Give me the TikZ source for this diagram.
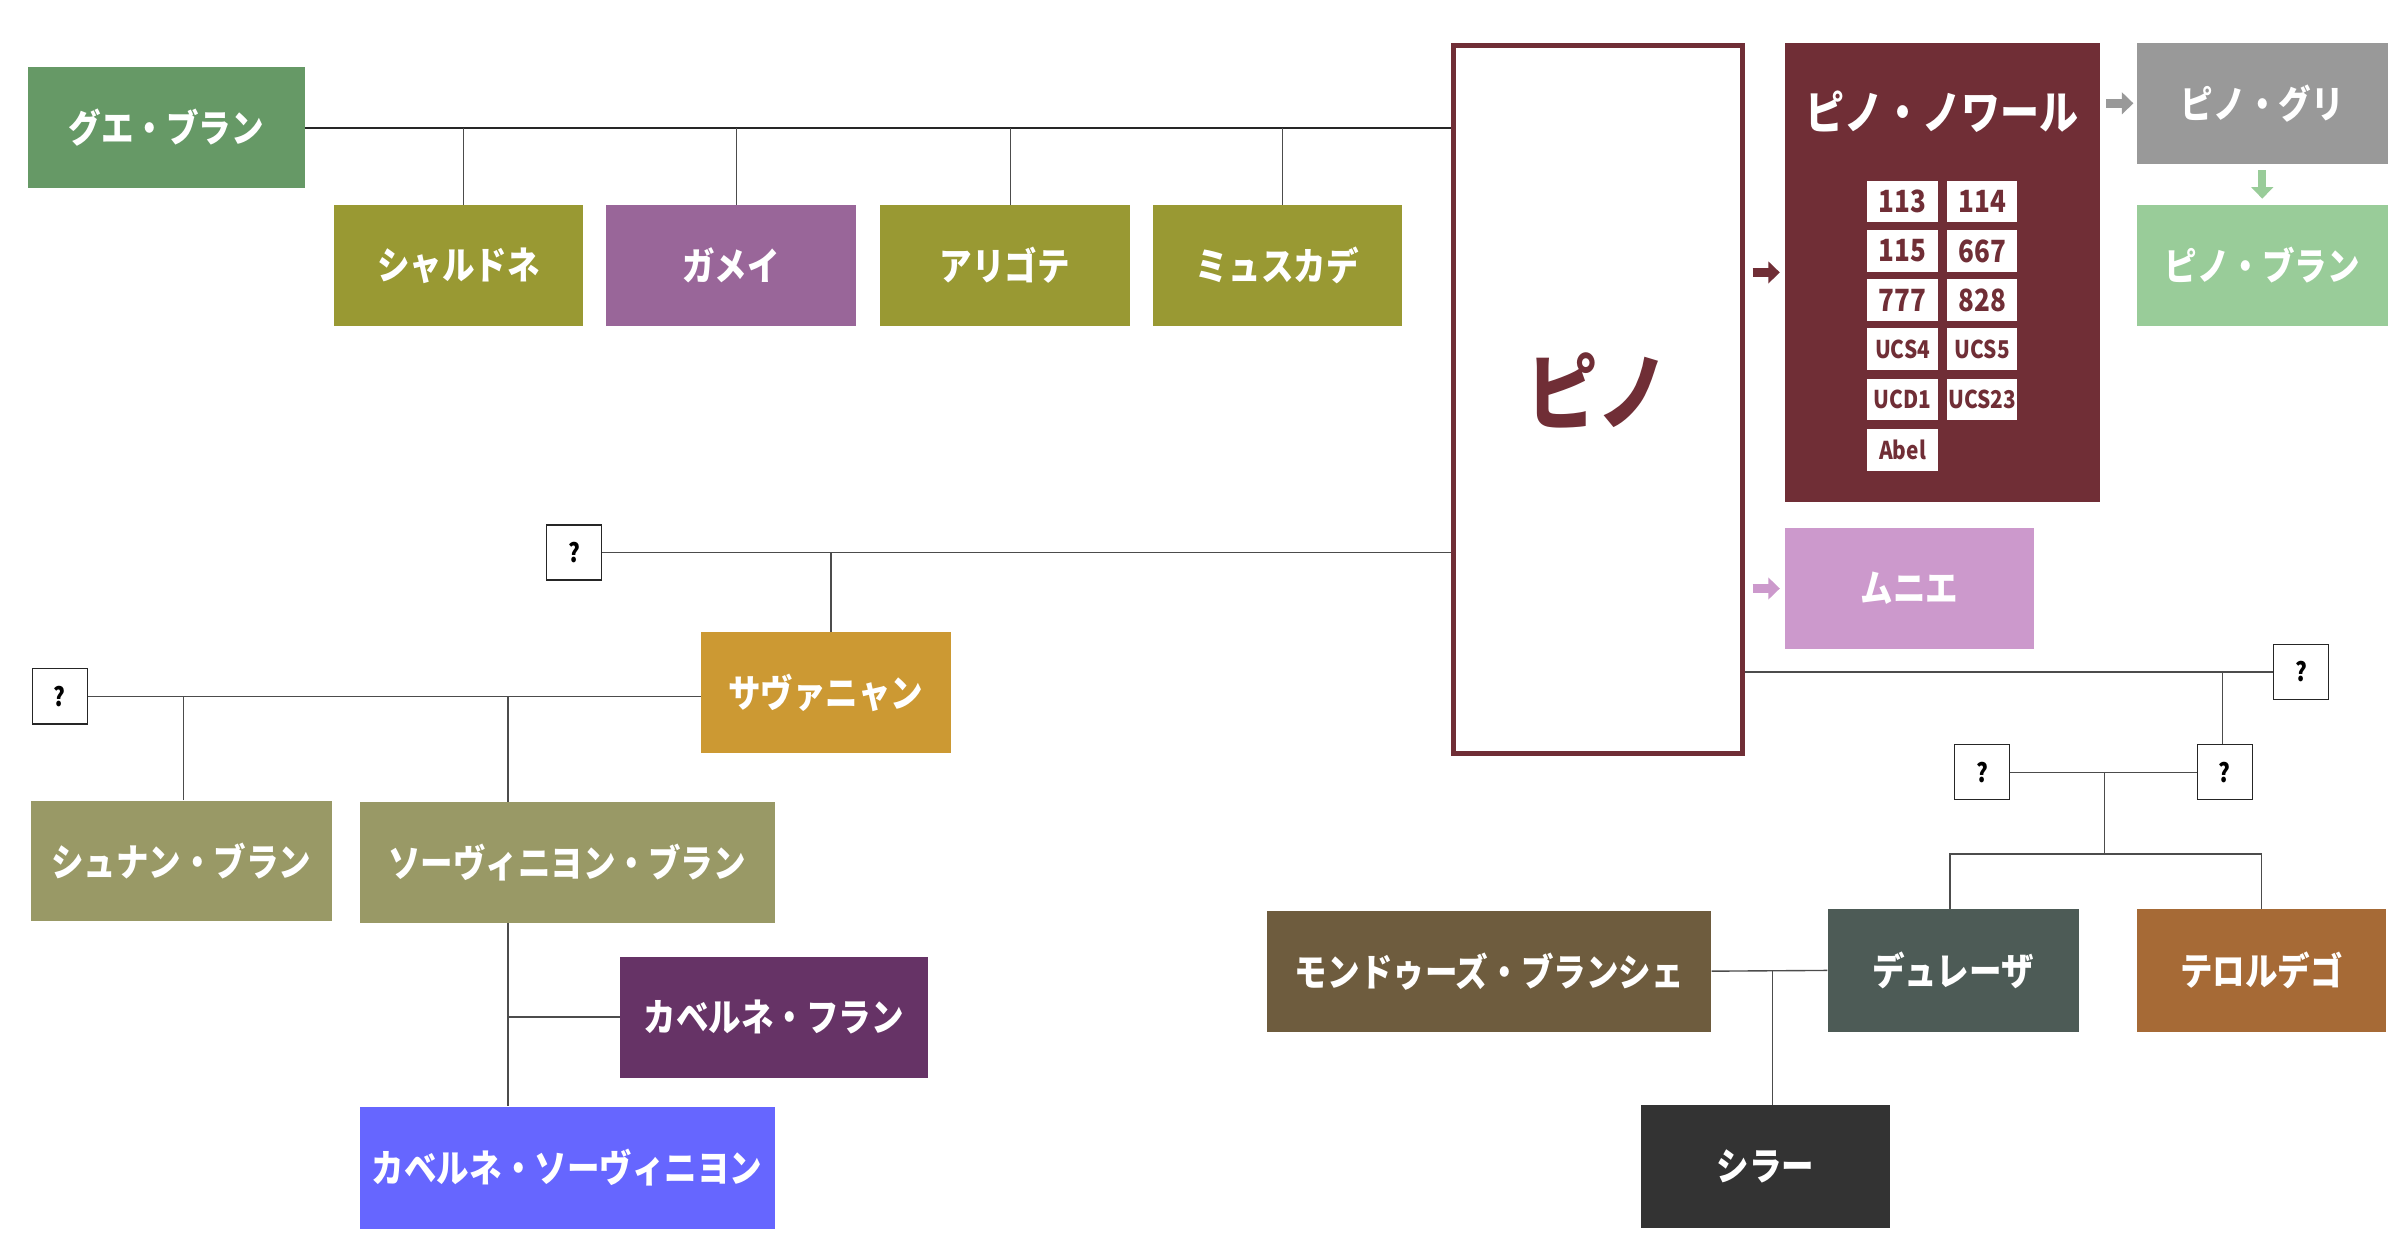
\documentclass[tikz,border=0pt]{standalone}
\usepackage{fontspec}
\setmainfont{Noto Sans CJK JP}[FakeStretch=0.85]
\usetikzlibrary{arrows.meta}
\definecolor{pinoc}{HTML}{702E36}
\definecolor{cgb}{HTML}{669966}
\definecolor{colive}{HTML}{999933}
\definecolor{cga}{HTML}{996699}
\definecolor{cpg}{HTML}{999999}
\definecolor{cpb}{HTML}{99CC99}
\definecolor{cmn}{HTML}{CC99CC}
\definecolor{csv}{HTML}{CC9933}
\definecolor{ckhaki}{HTML}{999966}
\definecolor{ccf}{HTML}{663366}
\definecolor{ccs}{HTML}{6666FF}
\definecolor{cdu}{HTML}{4D5B56}
\definecolor{cte}{HTML}{A66A36}
\definecolor{cmo}{HTML}{6E5C3E}
\definecolor{csy}{HTML}{333333}
\begin{document}
\begin{tikzpicture}[x=1pt,y=-1pt,
  lbl/.style={rectangle, inner sep=0pt, text=white, font=\bfseries\fontsize{25}{25}\selectfont},
  wine/.style={lbl, minimum height=79pt},
  qbox/.style={rectangle, draw=black!85, line width=0.8pt, fill=white, minimum width=36pt, minimum height=36pt, inner sep=0pt, font=\bfseries\fontsize{17}{17}\selectfont},
  link/.style={draw=black!70, line width=0.9pt},
  num/.style={rectangle, fill=white, minimum width=46pt, minimum height=27pt, inner sep=0pt, text=pinoc, font=\bfseries\fontsize{20}{20}\selectfont},
  codec/.style={num, font=\bfseries\fontsize{16}{16}\selectfont},
  blk/.style={line width=5.5pt, -{Triangle[length=7.5pt,width=14pt]}},
]
\fill[white] (0,0) rectangle (1568,823.2);
\useasboundingbox (0,0) rectangle (1568,823.2);

% top family
\node[wine, fill=cgb, minimum width=181pt] (gb) at (108.5,83.5) {グエ・ブラン};
\node[wine, fill=colive, minimum width=163pt] (ch) at (299.5,173.5) {シャルドネ};
\node[wine, fill=cga, minimum width=163pt] (ga) at (477.5,173.5) {ガメイ};
\node[wine, fill=colive, minimum width=163pt] (al) at (656.5,173.5) {アリゴテ};
\node[wine, fill=colive, minimum width=163pt] (mu) at (834.5,173.5) {ミュスカデ};

% pinot
\node[rectangle, draw=pinoc, line width=3.5pt, fill=white, minimum width=188.5pt, minimum height=462.5pt, inner sep=0pt] (pino) at (1044,261) {};
\node[text=pinoc, font=\bfseries\fontsize{55}{55}\selectfont, inner sep=0pt] (pinot) at (1044,255) {ピノ};

\node[rectangle, fill=pinoc, minimum width=206pt, minimum height=300pt, inner sep=0pt] (pn) at (1269,178) {};
\node[lbl, font=\bfseries\fontsize{30}{30}\selectfont] (pnt) at (1269,73) {ピノ・ノワール};
\node[num] (n1) at (1243,131.5) {113};
\node[num] (n2) at (1295,131.5) {114};
\node[num] (n3) at (1243,164) {115};
\node[num] (n4) at (1295,164) {667};
\node[num] (n5) at (1243,196) {777};
\node[num] (n6) at (1295,196) {828};
\node[codec] (n7) at (1243,228) {UCS4};
\node[codec] (n8) at (1295,228) {UCS5};
\node[codec] (n9) at (1243,261) {UCD1};
\node[codec] (n10) at (1295,261) {UCS23};
\node[codec] (n11) at (1243,294) {Abel};

\node[wine, fill=cpg, minimum width=164pt] (pg) at (1478,67.5) {ピノ・グリ};
\node[wine, fill=cpb, minimum width=164pt] (pb) at (1478,173.5) {ピノ・ブラン};
\node[wine, fill=cmn, minimum width=163pt] (mn) at (1247.5,384.5) {ムニエ};

% left lower family
\node[qbox] (q1) at (375,361) {?};
\node[wine, fill=csv, minimum width=163pt] (sv) at (539.5,452.5) {サヴァニャン};
\node[qbox] (q2) at (39,455) {?};
\node[wine, fill=ckhaki, minimum width=197pt] (sc) at (118.5,562.5) {シュナン・ブラン};
\node[wine, fill=ckhaki, minimum width=271pt] (sb) at (370.5,563.5) {ソーヴィニヨン・ブラン};
\node[wine, fill=ccf, minimum width=201pt] (cf) at (505.5,664.5) {カベルネ・フラン};
\node[wine, fill=ccs, minimum width=271pt, minimum height=80pt] (cs) at (370.5,763) {カベルネ・ソーヴィニヨン};

% right lower family
\node[qbox] (q3) at (1503.5,439) {?};
\node[qbox] (q4) at (1453.5,504.5) {?};
\node[qbox] (q5) at (1295,504.5) {?};
\node[wine, fill=cdu, minimum width=164pt, minimum height=80pt] (du) at (1276,634) {デュレーザ};
\node[wine, fill=cte, minimum width=163pt, minimum height=80pt] (te) at (1477.5,634) {テロルデゴ};
\node[wine, fill=cmo, minimum width=290pt] (mo) at (973,634.5) {モンドゥーズ・ブランシェ};
\node[wine, fill=csy, minimum width=163pt, minimum height=80pt] (sy) at (1153.5,762) {シラー};

% connectors: top
\draw[link, draw=black!85, line width=1.1pt] (gb.east) -- (gb.east -| pino.west);
\draw[link] ([xshift=3.5pt]ch.north) -- ([xshift=3.5pt]ch.north |- gb.east);
\draw[link] ([xshift=3.5pt]ga.north) -- ([xshift=3.5pt]ga.north |- gb.east);
\draw[link] ([xshift=3.5pt]al.north) -- ([xshift=3.5pt]al.north |- gb.east);
\draw[link] ([xshift=3.5pt]mu.north) -- ([xshift=3.5pt]mu.north |- gb.east);

% left lower
\draw[link] (q1.east) -- (q1.east -| pino.west);
\draw[link] ([xshift=3.5pt]sv.north) -- ([xshift=3.5pt]sv.north |- q1.east);
\draw[link] (q2.east) -- (q2.east -| sv.west);
\draw[link] ([xshift=1.5pt]sc.north) -- ([xshift=1.5pt]sc.north |- q2.east);
\coordinate (j1) at (332,455);
\draw[link] (j1) -- (j1 |- sb.north);
\draw[link] (j1 |- sb.south) -- (j1 |- cs.north);
\draw[link] (j1 |- cf.west) -- (cf.west);

% right lower
\draw[link] (pino.east |- q3.west) -- (q3.west);
\coordinate (j2) at (1452,439);
\draw[link] (j2) -- (j2 |- q4.north);
\draw[link] (q5.east) -- (q4.west);
\coordinate (j3) at (1375,504.5);
\coordinate (j4) at (1375,558);
\draw[link] (j3) -- (j4);
\draw[link] ([xshift=-2pt]du.north) |- (j4) -| (te.north);
\draw[link] (mo.east) -- (du.west);
\coordinate (j5) at (1158,634.5);
\draw[link] (j5) -- (j5 |- sy.north);

% arrows
\draw[blk, pinoc] ([xshift=5pt]pino.east |- pn.west) -- ([xshift=-3pt]pn.west);
\draw[blk, cmn] ([xshift=5pt]pino.east |- mn.west) -- ([xshift=-3pt]mn.west);
\draw[blk, cpg] ([xshift=4pt]pn.east |- pg.west) -- ([xshift=-2pt]pg.west);
\draw[blk, cpb] ([yshift=-4pt]pg.south) -- ([yshift=4pt]pb.north);
\end{tikzpicture}
\end{document}
